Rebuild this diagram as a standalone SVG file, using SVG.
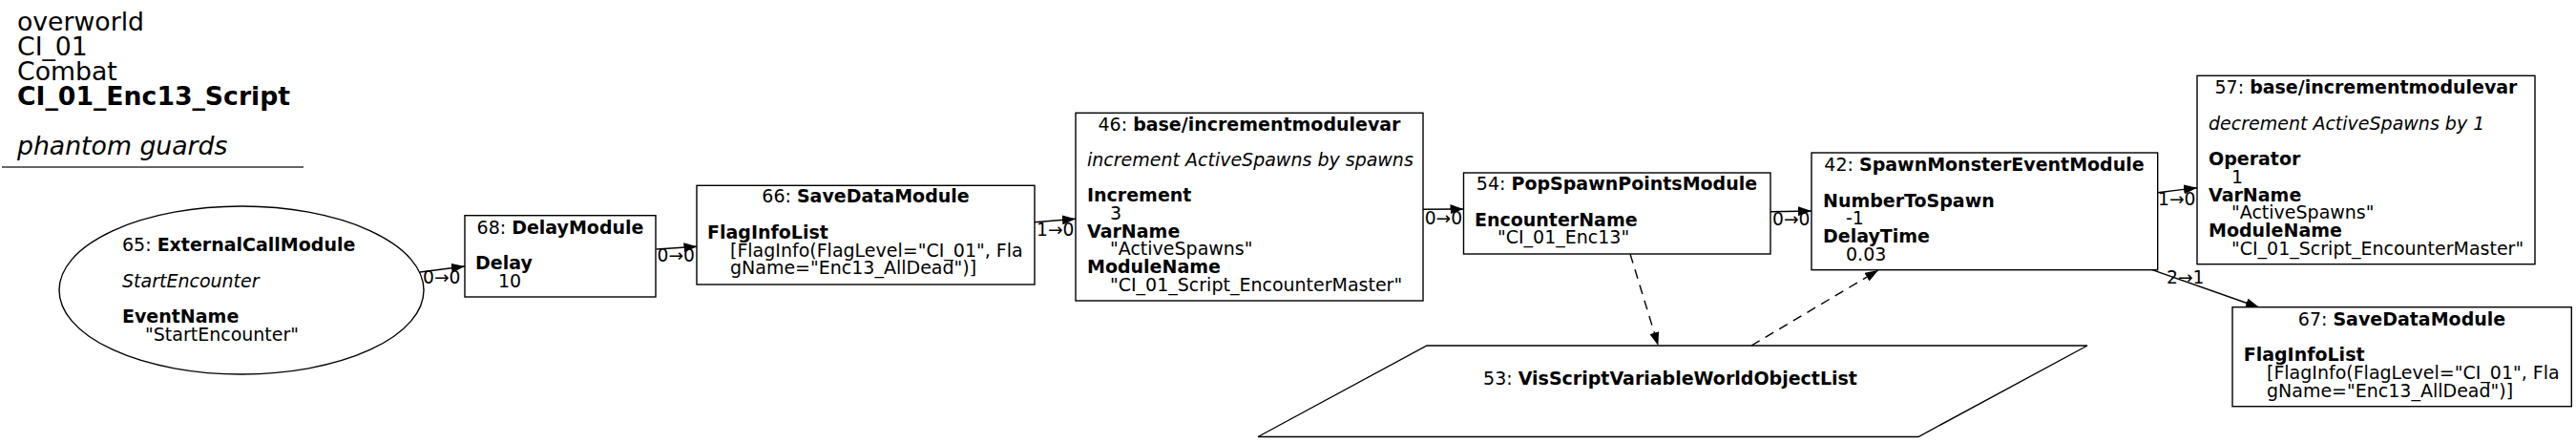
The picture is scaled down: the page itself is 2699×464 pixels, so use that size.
<svg xmlns="http://www.w3.org/2000/svg" width="2699" height="464" viewBox="0 0 2699 464">
<defs>
<style>
text { font-family: "DejaVu Sans", "Liberation Sans", sans-serif; font-size: 19px; fill: #000; }
.b { font-weight: bold; }
.i { font-style: italic; }
.ttl { font-size: 26.7px; }
.lbl { font-size: 18.7px; }
.shape { fill: #fff; stroke: #000; stroke-width: 1.4; }
.edge { fill: none; stroke: #000; stroke-width: 1.4; }
.dash { stroke-dasharray: 10 7; }
.mid { text-anchor: middle; }
</style>
<marker id="ah" viewBox="0 0 14 10" markerWidth="14" markerHeight="10" refX="14" refY="5" orient="auto" markerUnits="userSpaceOnUse">
<path d="M0,0 L14,5 L0,10 z" fill="#000"/>
</marker>
</defs>
<rect width="2699" height="464" fill="#fff"/>

<g id="title">
<text class="ttl" x="18" y="31.5">overworld</text>
<text class="ttl" x="18" y="57.5">CI_01</text>
<text class="ttl" x="18" y="83.5">Combat</text>
<text class="ttl b" x="18" y="109.5">CI_01_Enc13_Script</text>
<text class="ttl i" x="18" y="161.5">phantom guards</text>
<line x1="2" y1="175" x2="318" y2="175" stroke="#333" stroke-width="1.4"/>
</g>

<g id="connectors">
<path class="edge" d="M440,285 L487,279" marker-end="url(#ah)"/>
<text class="lbl" x="443" y="296.7">0→0</text>
<path class="edge" d="M687.7,261 L730.5,258.3" marker-end="url(#ah)"/>
<text class="lbl" x="688.5" y="274">0→0</text>
<path class="edge" d="M1084,232.7 L1127,229.3" marker-end="url(#ah)"/>
<text class="lbl" x="1086" y="246.7">1→0</text>
<path class="edge" d="M1491,219.3 L1533.5,219" marker-end="url(#ah)"/>
<text class="lbl" x="1492.7" y="235">0→0</text>
<path class="edge" d="M1855,221.7 L1898,221" marker-end="url(#ah)"/>
<text class="lbl" x="1857" y="236">0→0</text>
<path class="edge" d="M2260.7,201.7 L2302,196.7" marker-end="url(#ah)"/>
<text class="lbl" x="2261" y="215">1→0</text>
<path class="edge" d="M2255,282.7 L2367,322" marker-end="url(#ah)"/>
<text class="lbl" x="2270" y="296.7">2→1</text>
<path class="edge dash" d="M1708,266 L1737.4,362" marker-end="url(#ah)"/>
<path class="edge dash" d="M1835,362 L1968,283" marker-end="url(#ah)"/>
</g>

<g id="node65">
<ellipse class="shape" cx="253" cy="304" rx="191" ry="88"/>
<text x="128" y="263.3">65: <tspan class="b">ExternalCallModule</tspan></text>
<text class="i" x="128" y="300.7">StartEncounter</text>
<text class="b" x="128" y="338">EventName</text>
<text x="152" y="356.7">"StartEncounter"</text>
</g>

<g id="node68">
<rect class="shape" x="487" y="225.7" width="200" height="85.3"/>
<text class="mid" x="587" y="245">68: <tspan class="b">DelayModule</tspan></text>
<text class="b" x="498" y="282">Delay</text>
<text x="522" y="300.7">10</text>
</g>

<g id="node66">
<rect class="shape" x="730" y="194.3" width="354" height="103.7"/>
<text class="mid" x="907" y="212.3">66: <tspan class="b">SaveDataModule</tspan></text>
<text class="b" x="741" y="250">FlagInfoList</text>
<text x="765" y="268.7">[FlagInfo(FlagLevel="CI_01", Fla</text>
<text x="765" y="287.3">gName="Enc13_AllDead")]</text>
</g>

<g id="node46">
<rect class="shape" x="1127" y="118.3" width="364" height="196.7"/>
<text class="mid" x="1309" y="136.7">46: <tspan class="b">base/incrementmodulevar</tspan></text>
<text class="i" x="1139" y="174">increment ActiveSpawns by spawns</text>
<text class="b" x="1139" y="211.3">Increment</text>
<text x="1163" y="230">3</text>
<text class="b" x="1139" y="248.7">VarName</text>
<text x="1163" y="267.3">"ActiveSpawns"</text>
<text class="b" x="1139" y="286">ModuleName</text>
<text x="1163" y="304.7">"CI_01_Script_EncounterMaster"</text>
</g>

<g id="node54">
<rect class="shape" x="1533.5" y="181" width="321.5" height="85"/>
<text class="mid" x="1694" y="199.3">54: <tspan class="b">PopSpawnPointsModule</tspan></text>
<text class="b" x="1545" y="236.7">EncounterName</text>
<text x="1569" y="255.3">"CI_01_Enc13"</text>
</g>

<g id="node42">
<rect class="shape" x="1898" y="160" width="362.7" height="122.7"/>
<text class="mid" x="2079" y="179.3">42: <tspan class="b">SpawnMonsterEventModule</tspan></text>
<text class="b" x="1910" y="216.7">NumberToSpawn</text>
<text x="1934" y="235.3">-1</text>
<text class="b" x="1910" y="254">DelayTime</text>
<text x="1934" y="272.7">0.03</text>
</g>

<g id="node57">
<rect class="shape" x="2302" y="79.3" width="354" height="197.4"/>
<text class="mid" x="2479" y="98.3">57: <tspan class="b">base/incrementmodulevar</tspan></text>
<text class="i" x="2314" y="136">decrement ActiveSpawns by 1</text>
<text class="b" x="2314" y="173.3">Operator</text>
<text x="2338" y="192">1</text>
<text class="b" x="2314" y="210.7">VarName</text>
<text x="2338" y="229.3">"ActiveSpawns"</text>
<text class="b" x="2314" y="248">ModuleName</text>
<text x="2338" y="266.7">"CI_01_Script_EncounterMaster"</text>
</g>

<g id="node67">
<rect class="shape" x="2339" y="321.7" width="355.3" height="104"/>
<text class="mid" x="2516.5" y="341">67: <tspan class="b">SaveDataModule</tspan></text>
<text class="b" x="2350.7" y="378.3">FlagInfoList</text>
<text x="2375" y="397">[FlagInfo(FlagLevel="CI_01", Fla</text>
<text x="2375" y="415.7">gName="Enc13_AllDead")]</text>
</g>

<g id="node53">
<polygon class="shape" points="1495,362 2187,362 2010,457.5 1318,457.5"/>
<text class="mid b" x="1750" y="403.3"><tspan font-weight="normal">53: </tspan>VisScriptVariableWorldObjectList</text>
</g>
</svg>
